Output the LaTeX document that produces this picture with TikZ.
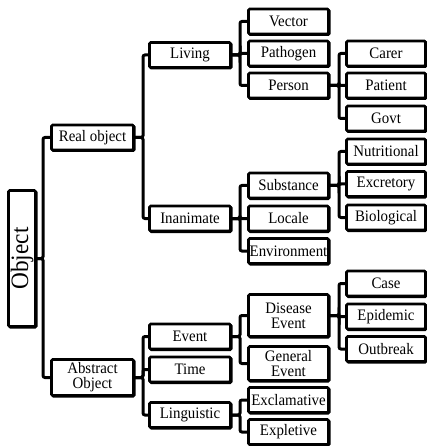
\documentclass[tikz,border=0pt]{standalone}
\usepackage{fontspec}
\setmainfont{Liberation Serif}[FakeStretch=0.93]
\begin{document}
\begin{tikzpicture}[x=1pt,y=-1pt,
  box/.style={draw, line width=2.6pt, rounded corners=1.2pt, fill=white,
    inner sep=0pt, outer sep=0pt, minimum height=25pt, align=center,
    font=\fontsize{16}{15}\selectfont,
    preaction={draw, line width=2.6pt, transform canvas={shift={(0.7pt,-0.7pt)}}}},
  cA/.style={box, minimum width=82pt},
  cB/.style={box, minimum width=81pt},
  cC/.style={box, minimum width=80pt},
  cD/.style={box, minimum width=79pt},
  conn/.style={line width=3pt, rounded corners=2pt}]
\useasboundingbox (0,0) rectangle (427,446);

% level 0
\node[box, minimum width=27pt, minimum height=136pt] (obj) at (22,258.5)
  {\rotatebox{90}{\fontsize{25}{25}\selectfont Object}};
% level 1
\node[cA] (real) at (92.5,137.5) {Real object};
\node[cA, minimum height=36pt] (abs) at (92.5,377.5) {Abstract\\Object};
% level 2
\node[cB] (living) at (190,55) {Living};
\node[cB] (inan) at (190,218.5) {Inanimate};
\node[cB] (event) at (190,336.5) {Event};
\node[cB] (time) at (190,369.5) {Time};
\node[cB] (ling) at (190,415) {Linguistic};
% level 3
\node[cC] (vector) at (288.5,21.5) {Vector};
\node[cC] (patho) at (288.5,53.5) {Pathogen};
\node[cC] (person) at (288.5,85.5) {Person};
\node[cC] (subst) at (288.5,185.5) {Substance};
\node[cC] (locale) at (288.5,218.5) {Locale};
\node[cC] (env) at (288.5,251) {Environment};
\node[cC, minimum height=42pt] (dis) at (288.5,315.5) {Disease\\Event};
\node[cC, minimum height=34pt] (gen) at (288.5,363.5) {General\\Event};
\node[cC] (excl) at (288.5,400) {Exclamative};
\node[cC] (expl) at (288.5,432) {Expletive};
% level 4
\node[cD] (carer) at (386,53.5) {Carer};
\node[cD] (patient) at (386,85.5) {Patient};
\node[cD] (govt) at (386,118.5) {Govt};
\node[cD] (nutr) at (386,151.5) {Nutritional};
\node[cD] (excr) at (386,184) {Excretory};
\node[cD] (bio) at (386,217.5) {Biological};
\node[cD] (case) at (386,283.5) {Case};
\node[cD] (epi) at (386,316.5) {Epidemic};
\node[cD] (out) at (386,349) {Outbreak};

% connectors
\foreach \c in {real,abs} \draw[conn] (obj.east) -- ++(7.5,0) |- (\c.west);
\foreach \c in {living,inan} \draw[conn] (real.east) -- ++(9.5,0) |- (\c.west);
\foreach \c in {event,time,ling} \draw[conn] (abs.east) -- ++(9.5,0) |- (\c.west);
\foreach \c in {vector,patho,person} \draw[conn] (living.east) -- ++(9.5,0) |- (\c.west);
\foreach \c in {subst,locale,env} \draw[conn] (inan.east) -- ++(9.5,0) |- (\c.west);
\foreach \c in {dis,gen} \draw[conn] (event.east) -- ++(9.5,0) |- (\c.west);
\foreach \c in {excl,expl} \draw[conn] (ling.east) -- ++(9.5,0) |- (\c.west);
\foreach \c in {carer,patient,govt} \draw[conn] (person.east) -- ++(10.5,0) |- (\c.west);
\foreach \c in {nutr,excr,bio} \draw[conn] (subst.east) -- ++(10.5,0) |- (\c.west);
\foreach \c in {case,epi,out} \draw[conn] (dis.east) -- ++(10.5,0) |- (\c.west);
\end{tikzpicture}
\end{document}
